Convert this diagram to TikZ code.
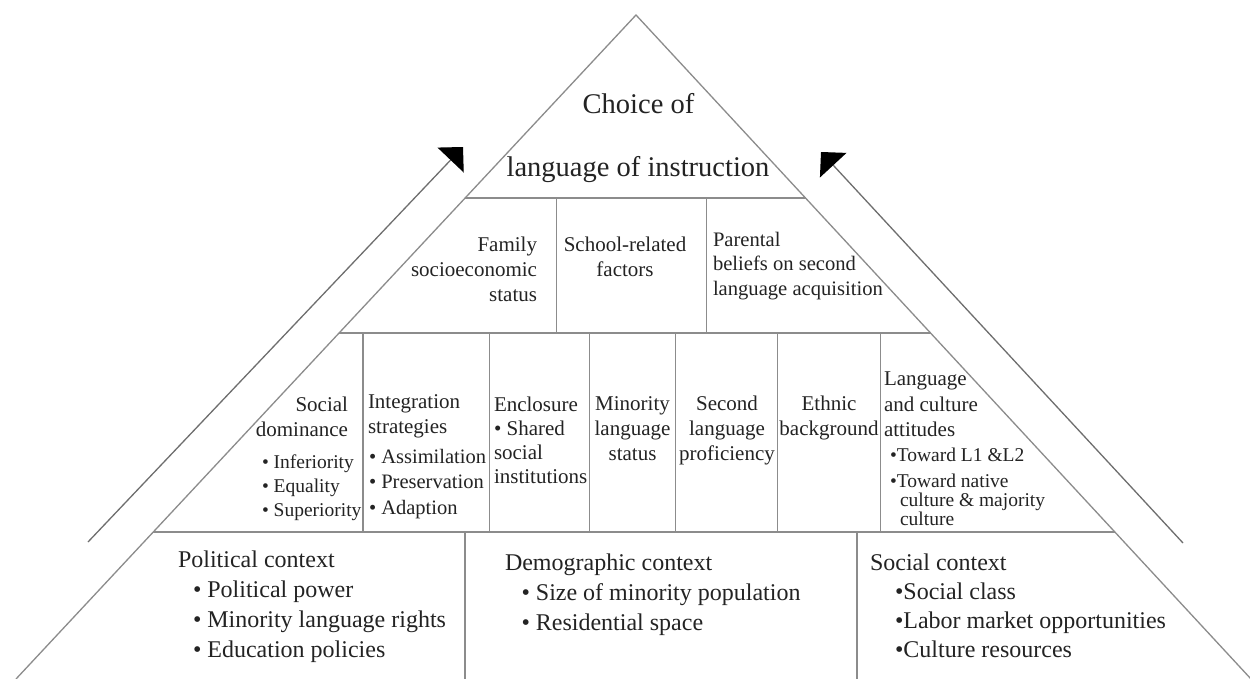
\documentclass[tikz,border=0pt]{standalone}
\usepackage{fontspec}
\setmainfont{Liberation Serif}
\usetikzlibrary{arrows.meta,calc}
\definecolor{ln}{RGB}{140,140,140}
\definecolor{arr}{RGB}{110,110,110}
\definecolor{txt}{RGB}{35,35,35}
\tikzset{
  edge/.style={draw=ln, line width=1.3pt},
  cell/.style={draw=ln, line width=1.3pt},
  flow/.style={draw=arr, line width=1.3pt, -{Triangle[length=18pt,width=36pt,color=black,fill=black]}},
  lbl/.style={inner sep=0pt, outer sep=0pt, text=txt},
  ttl/.style={lbl, anchor=base, font=\fontsize{28.5}{34}\selectfont},
  mid/.style={lbl, font=\fontsize{21}{25}\selectfont},
  sub/.style={lbl, font=\fontsize{19.5}{24}\selectfont},
  big/.style={lbl, font=\fontsize{24}{30}\selectfont},
}
\begin{document}
\begin{tikzpicture}[x=1pt,y=-1pt]
\clip (0,0) rectangle (1250,679);
\fill[white] (0,0) rectangle (1250,679);
% triangle
\coordinate (A) at (636,15);
\coordinate (BL) at (16,679);
\coordinate (BR) at (1251,679);
\draw[edge] (BL) -- (A) -- (BR);
\coordinate (L1) at ($(A)!0.2756!(BL)$);
\coordinate (R1) at ($(A)!0.2756!(BR)$);
\coordinate (L2) at ($(A)!0.4789!(BL)$);
\coordinate (R2) at ($(A)!0.4789!(BR)$);
\coordinate (L3) at ($(A)!0.7786!(BL)$);
\coordinate (R3) at ($(A)!0.7786!(BR)$);
\draw[cell] (L1) -- (R1);
\draw[cell] (L2) -- (R2);
\draw[cell] (L3) -- (R3);
% row 2 dividers
\draw[cell] (556.7,198) -- (556.7,333);
\draw[cell] (706.7,198) -- (706.7,333);
% row 3 dividers
\foreach \x in {363,489.3,589.3,675.7,777.7,880.5}
  \draw[cell] (\x,333) -- (\x,532);
% row 4 dividers
\draw[cell] (465,532) -- (465,679);
\draw[cell] (857,532) -- (857,679);
% arrows
\coordinate (la0) at (88,542);
\coordinate (la1) at (463,147);
\coordinate (ra0) at (1183,543);
\coordinate (ra1) at (821,152);
\draw[flow] (la0) -- (la1);
\draw[flow] (ra0) -- (ra1);
% title
\node[ttl] (t1) at (638.5,114) {Choice of};
\node[ttl] (t2) at (638,177) {language of instruction};
% row 2 (anchor = baseline of the last line)
\node[mid, anchor=base east, align=right] (fam) at (537,301) {Family\\socioeconomic\\status};
\node[mid, anchor=base, align=center] (sch) at (625,276.5) {School-related\\factors};
\node[mid, anchor=base west, align=left, font=\fontsize{20.6}{24.5}\selectfont] (par) at (713,295) {Parental\\beliefs on second\\language acquisition};
% row 3
\node[mid, anchor=base east, align=right] (sd) at (348,436) {Social\\dominance};
\node[sub, anchor=base west, align=left] (sdl) at (262,516) {• Inferiority\\• Equality\\• Superiority};
\node[mid, anchor=base west, align=left] (ig) at (368,433.5) {Integration\\strategies};
\node[mid, anchor=base west, align=left, font=\fontsize{20.5}{25.5}\selectfont] (igl) at (369,514) {• Assimilation\\• Preservation\\• Adaption};
\node[mid, anchor=base west, align=left, font=\fontsize{21}{24}\selectfont] (enc) at (494,483.5) {Enclosure\\• Shared\\social\\institutions};
\node[mid, anchor=base, align=center] (mls) at (632.5,460) {Minority\\language\\status};
\node[mid, anchor=base, align=center] (slp) at (727,460) {Second\\language\\proficiency};
\node[mid, anchor=base, align=center] (eth) at (829,435) {Ethnic\\background};
\node[mid, anchor=base west, align=left, font=\fontsize{21}{25.5}\selectfont] (lca) at (884,436.5) {Language\\and culture\\attitudes};
\node[sub, anchor=base west] (lcl1) at (890,461.7) {•Toward L1 \&L2};
\node[sub, anchor=base west, align=left, font=\fontsize{19.5}{18.7}\selectfont] (lcl2) at (890,525) {•Toward native\\\hspace*{10pt}culture \& majority\\\hspace*{10pt}culture};
% row 4
\node[big, anchor=base west, align=left] (pol) at (178,657) {Political context\\\hspace*{15pt}• Political power\\\hspace*{15pt}• Minority language rights\\\hspace*{15pt}• Education policies};
\node[big, anchor=base west, align=left] (dem) at (505,630) {Demographic context\\\hspace*{16.5pt}• Size of minority population\\\hspace*{16.5pt}• Residential space};
\node[big, anchor=base west, align=left, font=\fontsize{24}{29}\selectfont] (soc) at (870,657) {Social context\\\hspace*{25pt}•Social class\\\hspace*{25pt}•Labor market opportunities\\\hspace*{25pt}•Culture resources};
\end{tikzpicture}
\end{document}
